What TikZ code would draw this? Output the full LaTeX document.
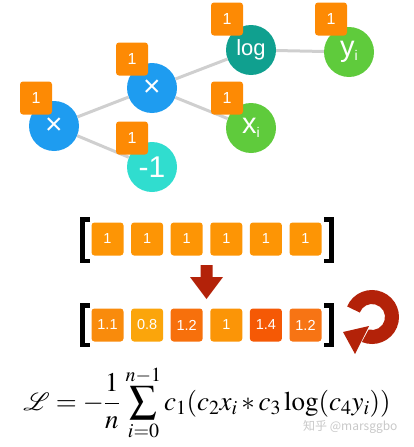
\documentclass[tikz,border=0pt]{standalone}
\usepackage{amsmath}
\usepackage{mathptmx}
\usepackage{mathrsfs}
\usepackage[no-math]{fontspec}
\newfontfamily\labelfont{Liberation Sans}
\newfontfamily\cjk{Noto Sans CJK SC}
\usetikzlibrary{arrows.meta,positioning,calc}
\definecolor{opblue}{HTML}{1E9CF0}
\definecolor{negcyan}{HTML}{30DDCF}
\definecolor{logteal}{HTML}{10A08F}
\definecolor{leafgreen}{HTML}{5FCB3C}
\definecolor{badgeorange}{HTML}{FD8A04}
\definecolor{cellorange}{HTML}{FD9505}
\definecolor{linkgray}{HTML}{CFCFCF}
\definecolor{gradred}{HTML}{B32209}
\definecolor{markgray}{HTML}{C8C8C8}
\tikzset{op/.style={circle,minimum size=50pt,inner sep=0pt,text=white,font=\labelfont\fontsize{30}{30}\selectfont}, badge/.style={fill=badgeorange,rounded corners=3pt,minimum width=32pt,minimum height=33pt,inner sep=0pt,text=white,font=\labelfont\fontsize{16}{16}\selectfont}, cell/.style={rounded corners=3pt,minimum width=32pt,minimum height=33pt,inner sep=0pt,text=white,font=\labelfont\fontsize{14.5}{14.5}\selectfont}, link/.style={draw=linkgray,line width=3pt}, bracket/.style={draw=black,line width=4.5pt}}

\begin{document}
\begin{tikzpicture}[x=1pt,y=-1pt]
\useasboundingbox (0,0) rectangle (413,447);
% graph of operations
\node[op,fill=opblue] (m1) at (54,126) {×};
\node[op,fill=opblue] (m2) at (152,88) {×};
\node[op,fill=negcyan] (neg) at (152,167) {-1};
\node[op,fill=logteal,font=\labelfont\fontsize{22}{22}\selectfont] (lg) at (251,50) {log};
\node[op,fill=leafgreen,font=\labelfont\fontsize{29}{29}\selectfont] (xi) at (251,128) {x\raisebox{-0.25ex}{\fontsize{14}{14}\selectfont i}};
\node[op,fill=leafgreen,font=\labelfont\fontsize{29}{29}\selectfont] (yi) at (349,52) {y\raisebox{-0.25ex}{\fontsize{14}{14}\selectfont i}};
\draw[link] (m1)--(m2);
\draw[link] (m1)--(neg);
\draw[link] (m2)--(lg);
\draw[link] (m2)--(xi);
\draw[link] (lg)--(yi);
\node[badge] (g1) at (36,98) {1};
\node[badge] (g2) at (132,59) {1};
\node[badge] (g3) at (132,138) {1};
\node[badge] (g4) at (227,19) {1};
\node[badge] (g5) at (227,98) {1};
\node[badge] (g6) at (331,19) {1};
% gradients before the update
\node[cell,fill=cellorange] (a1) at (107.5,239) {1};
\node[cell,fill=cellorange] (a2) at (147.1,239) {1};
\node[cell,fill=cellorange] (a3) at (186.7,239) {1};
\node[cell,fill=cellorange] (a4) at (226.3,239) {1};
\node[cell,fill=cellorange] (a5) at (265.9,239) {1};
\node[cell,fill=cellorange] (a6) at (305.5,239) {1};
\draw[bracket] (90,219.5)--(82.5,219.5)--(82.5,261)--(90,261);
\draw[bracket] (324,219.5)--(331.5,219.5)--(331.5,261)--(324,261);
\fill[gradred] (200.5,265)--(212.5,265)--(212.5,277)--(223,277)--(206.5,299)--(190,277)--(200.5,277)--cycle;
% gradients after the update
\node[cell,fill={rgb,255:red,249;green,139;blue,12}] (b1) at (107.5,325) {1.1};
\node[cell,fill={rgb,255:red,251;green,165;blue,11}] (b2) at (147.1,325) {0.8};
\node[cell,fill={rgb,255:red,247;green,112;blue,12}] (b3) at (186.7,325) {1.2};
\node[cell,fill={rgb,255:red,251;green,149;blue,7}] (b4) at (226.3,325) {1};
\node[cell,fill={rgb,255:red,245;green,89;blue,5}] (b5) at (265.9,325) {1.4};
\node[cell,fill={rgb,255:red,247;green,116;blue,20}] (b6) at (305.5,325) {1.2};
\draw[bracket] (90,305.5)--(82.5,305.5)--(82.5,345)--(90,345);
\draw[bracket] (324,305.5)--(331.5,305.5)--(331.5,345)--(324,345);
\fill[gradred] (372,317) ++(-157:27) arc[start angle=-157,end angle=112,radius=27] -- ($(372,317)+(105:13)$) arc[start angle=105,end angle=-160,radius=13] -- cycle;
\fill[gradred] (343,332)--(369,326)--(355,354)--cycle;
% loss
\node[font=\fontsize{27}{32}\selectfont] (loss) at (207,403) {$\mathscr{L}=-\dfrac{1}{n}\,\displaystyle\sum_{i=0}^{n-1}c_1(c_2x_i*c_3\log(c_4y_i))$};
\node[anchor=east,text=markgray,font=\cjk\fontsize{12}{12}\selectfont] (mark) at (401,427) {知乎 @marsggbo};
\end{tikzpicture}
\end{document}
